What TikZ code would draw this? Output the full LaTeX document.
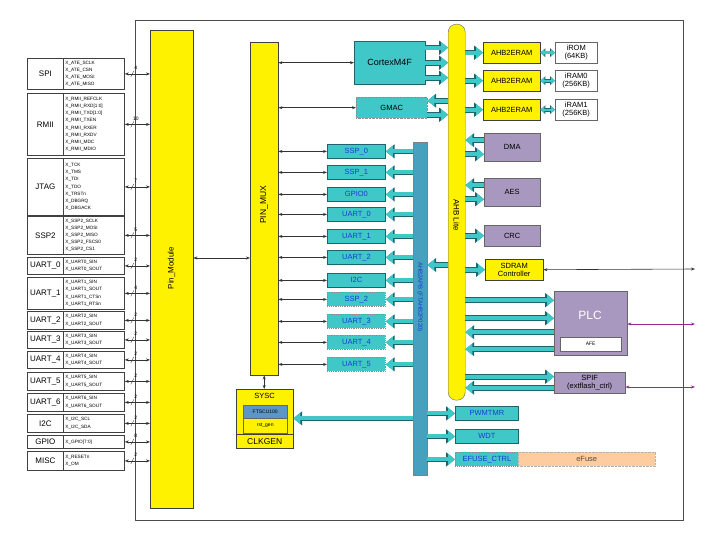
\documentclass[tikz,border=0pt]{standalone}
\usepackage{fontspec}
\setmainfont{Liberation Sans}
\usetikzlibrary{arrows.meta,calc}
\definecolor{tealbox}{RGB}{64,200,200}
\definecolor{tealline}{RGB}{30,100,110}
\definecolor{devblue}{RGB}{25,60,210}
\definecolor{apbbar}{RGB}{70,160,190}
\definecolor{plcpurple}{RGB}{168,152,192}
\definecolor{peach}{RGB}{255,204,160}
\definecolor{scu}{RGB}{90,150,200}
\definecolor{ioline}{RGB}{150,40,150}
\tikzset{
  blk/.style={draw=black!75, inner sep=0, anchor=north west, font=\fontsize{7.5}{8.5}\selectfont},
  ylw/.style={blk, fill=yellow},
  apbdev/.style={blk, fill=tealbox, draw=tealline, thick, text=devblue},
  optdev/.style={apbdev, draw=black!45, densely dotted},
  ahbdev/.style={blk, fill=plcpurple, draw=black!60},
  mem/.style={blk, fill=white, draw=black!60, align=center},
  pinname/.style={blk, font=\fontsize{8}{9}\selectfont, thick},
  pinsig/.style={blk, thick, align=left, text width=57, inner xsep=2, font=\fontsize{4.7}{7.2}\selectfont},
  fat/.style={draw=tealbox, line width=4pt, -{Triangle[length=7pt,width=11pt]},
    preaction={draw=tealline, line width=5.6pt, -{Triangle[length=8.8pt,width=13.6pt]}}},
  fatboth/.style={draw=tealbox, line width=2.4pt, {Triangle[length=4pt,width=7pt]}-{Triangle[length=4pt,width=7pt]},
    preaction={draw=tealline, line width=3.6pt, {Triangle[length=5pt,width=8.6pt]}-{Triangle[length=5pt,width=8.6pt]}}},
  pin/.style={{Stealth[length=4pt]}-{Stealth[length=4pt]}, black!80, semithick},
}
\begin{document}
\begin{tikzpicture}[x=1pt, y=-1pt]
\useasboundingbox (0,0) rectangle (706,535);
% chip outline and main buses
\node[blk, draw=black!70, thick, minimum width=548, minimum height=500] (chip) at (135,20) {};
\node[ylw, minimum width=43, minimum height=478] (pm) at (150,30) {};
\node[rotate=90, font=\fontsize{8}{9}\selectfont] at (171.5,268) {Pin\_Module};
\node[ylw, minimum width=28, minimum height=333] (mux) at (250,42) {};
\node[rotate=90, font=\fontsize{8.5}{9}\selectfont] at (264,205) {PIN\_MUX};
\node[ylw, draw=black!60, minimum width=17, minimum height=376, rounded corners=8] (ahb) at (448,24) {};
\node[rotate=-90, font=\fontsize{8}{9}\selectfont] at (456.5,215) {AHB Lite};
\node[blk, fill=apbbar, draw=black!50, minimum width=14, minimum height=333] (apb) at (413,142) {};
\node[rotate=-90, text=devblue, font=\fontsize{6}{7}\selectfont] at (420,297) {AHB2APB (FTAHB2P020)};

% pins
\foreach \nm/\ya/\yb/\bw/\sig [count=\i] in {
  SPI/58/89/4/{X\_ATE\_SCLK\\X\_ATE\_CSN\\X\_ATE\_MOSI\\X\_ATE\_MISO},
  RMII/93/155/10/{X\_RMII\_REFCLK\\X\_RMII\_RXD[1:0]\\X\_RMII\_TXD[1:0]\\X\_RMII\_TXEN\\X\_RMII\_RXER\\X\_RMII\_RXDV\\X\_RMII\_MDC\\X\_RMII\_MDIO},
  JTAG/158/215/7/{X\_TCK\\X\_TMS\\X\_TDI\\X\_TDO\\X\_TRSTn\\X\_DBGRQ\\X\_DBGACK},
  SSP2/216/254/5/{X\_SSP2\_SCLK\\X\_SSP2\_MOSI\\X\_SSP2\_MISO\\X\_SSP2\_FSCS0\\X\_SSP2\_CS1},
  UART\_0/257/274/2/{X\_UART0\_SIN\\X\_UART0\_SOUT},
  UART\_1/277/309/4/{X\_UART1\_SIN\\X\_UART1\_SOUT\\X\_UART1\_CTSn\\X\_UART1\_RTSn},
  UART\_2/311/329/2/{X\_UART2\_SIN\\X\_UART2\_SOUT},
  UART\_3/331/348/2/{X\_UART3\_SIN\\X\_UART3\_SOUT},
  UART\_4/351/368/2/{X\_UART4\_SIN\\X\_UART4\_SOUT},
  UART\_5/372/390/2/{X\_UART5\_SIN\\X\_UART5\_SOUT},
  UART\_6/393/411/2/{X\_UART6\_SIN\\X\_UART6\_SOUT},
  I2C/414/432/2/{X\_I2C\_SCL\\X\_I2C\_SDA},
  GPIO/435/448/8/{X\_GPIO[7:0]},
  MISC/451/470/2/{X\_RESETn\\X\_OM}}
{
  \node[pinname, minimum width=36, minimum height={\yb-\ya}] (n\i) at (27,\ya) {\nm};
  \node[pinsig, minimum height={\yb-\ya}] (s\i) at (63,\ya) {\sig};
  \draw[pin] (s\i.east) -- (s\i.east -| pm.west);
  \draw[black!80] ($(s\i.east)+(6,3)$) -- ++(3,-6);
  \node[font=\fontsize{5}{5}\selectfont, inner sep=0] at ($(s\i.east)+(11,-6)$) {\bw};
}
\draw[pin] (pm.east |- 0,258) -- (mux.west |- 0,258);

% cpu side
\node[blk, fill=tealbox, draw=tealline, minimum width=71, minimum height=43, font=\fontsize{9}{10}\selectfont] (cpu) at (354,41) {CortexM4F};
\node[blk, fill=tealbox, draw=black!45, densely dotted, minimum width=71, minimum height=21] (gmac) at (356,97) {GMAC};
\draw[pin] (mux.east |- cpu) -- (cpu.west);
\draw[pin] (mux.east |- gmac) -- (gmac.west);
\foreach \s in {15,0,-15} \draw[fat] ([yshift=\s]cpu.east) -- ([yshift=\s]cpu.east -| ahb.west);
\draw[fat] ([yshift=7]gmac.east -| ahb.west) -- ([yshift=7]gmac.east);
\draw[fat] ([yshift=-7]gmac.east) -- ([yshift=-7]gmac.east -| ahb.west);

% apb devices on the pin mux
\foreach \nm/\y/\st [count=\i] in {SSP\_0/144/apbdev, SSP\_1/165/apbdev, GPIO0/187/apbdev,
  UART\_0/207/apbdev, UART\_1/229/apbdev, UART\_2/250/apbdev, I2C/273/apbdev,
  SSP\_2/292/optdev, UART\_3/314/optdev, UART\_4/335/optdev, UART\_5/357/optdev}
{
  \node[\st, minimum width=58, minimum height=14] (d\i) at (327,\y) {\nm};
  \draw[pin] (mux.east |- d\i) -- (d\i.west);
  \draw[fat] (apb.west |- d\i) -- (d\i.east);
}

% ahb slaves
\foreach \y/\mm [count=\i] in {42/{iROM\\(64KB)}, 70/{iRAM0\\(256KB)}, 99/{iRAM1\\(256KB)}}
{
  \node[ylw, minimum width=57, minimum height=21] (br\i) at (483,\y) {AHB2ERAM};
  \node[mem, minimum width=42, minimum height=21] (m\i) at (555,\y) {\mm};
  \draw[fat] (ahb.east |- br\i) -- (br\i.west);
  \draw[fatboth] (br\i.east) -- (m\i.west);
}
\node[ahbdev, minimum width=56, minimum height=28] (dma) at (484,133) {DMA};
\node[ahbdev, minimum width=56, minimum height=28] (aes) at (484,178) {AES};
\node[ahbdev, minimum width=56, minimum height=21] (crc) at (484,225) {CRC};
\foreach \d in {dma,aes}
{
  \draw[fat] ([yshift=7]\d.west) -- ([yshift=7]\d.west -| ahb.east);
  \draw[fat] ([yshift=-7]\d.west -| ahb.east) -- ([yshift=-7]\d.west);
}
\draw[fat] (ahb.east |- crc) -- (crc.west);
\draw[fat] (ahb.west |- 0,265) -- (apb.east |- 0,265);
\node[ylw, align=center, minimum width=58, minimum height=21] (sdram) at (485,259) {SDRAM\\Controller};
\draw[fat] (ahb.east |- sdram) -- (sdram.west);
\coordinate (sdramio) at (695,269);
\draw[pin] (sdram.east) -- (sdramio);
\node[ahbdev, minimum width=73, minimum height=64] (plc) at (554,291) {};
\node[text=white, font=\fontsize{12}{13}\selectfont] at (590,315) {PLC};
\node[blk, fill=white, draw=black!60, minimum width=61, minimum height=14, font=\fontsize{5}{6}\selectfont] (afe) at (560,337) {AFE};
\foreach \s in {23,5} \draw[fat] ([yshift=\s]plc.west -| ahb.east) -- ([yshift=\s]plc.west);
\foreach \s in {-9,-26} \draw[fat] ([yshift=\s]plc.west) -- ([yshift=\s]plc.west -| ahb.east);
\node[ahbdev, align=center, minimum width=71, minimum height=21] (spif) at (554,372) {SPIF\\(extflash\_ctrl)};
\draw[fat] ([yshift=6]spif.west -| ahb.east) -- ([yshift=6]spif.west);
\draw[fat] ([yshift=-5]spif.west) -- ([yshift=-5]spif.west -| ahb.east);
\coordinate (plcio) at (695,324);
\coordinate (spifio) at (695,387);
\draw[pin, ioline] (plc.east |- plcio) -- (plcio);
\draw[pin, ioline] (spif.east |- spifio) -- (spifio);

% apb devices on the bus only
\node[apbdev, minimum width=63, minimum height=14] (pwm) at (455,406) {PWMTMR};
\node[apbdev, minimum width=63, minimum height=14] (wdt) at (455,429) {WDT};
\node[optdev, minimum width=63, minimum height=14] (efc) at (455,452) {EFUSE\_CTRL};
\node[blk, fill=peach, draw=black!30, densely dotted, minimum width=137, minimum height=14, text=black!70] (efuse) at (518,452) {eFuse};
\foreach \d in {pwm,wdt,efc} \draw[fat] (apb.east |- \d) -- (\d.west);

% system control
\node[ylw, minimum width=57, minimum height=59] (sysc) at (236,389) {};
\node[font=\fontsize{7.5}{8}\selectfont] at (264.5,396) {SYSC};
\node[blk, fill=scu, draw=black!60, minimum width=44, minimum height=13, font=\fontsize{5}{6}\selectfont] (ftscu) at (243,405) {FTSCU100};
\node[blk, fill=yellow, draw=black!60, minimum width=44, minimum height=15, font=\fontsize{5}{6}\selectfont] (rst) at (243,418) {rst\_gen};
\node[ylw, minimum width=57, minimum height=14, font=\fontsize{8.5}{9}\selectfont] (clkgen) at (236,434) {CLKGEN};
\draw[pin] (mux.south) -- (mux.south |- sysc.north);
\draw[fat] (apb.west |- ftscu.south) -- (sysc.east |- ftscu.south);
\end{tikzpicture}
\end{document}
